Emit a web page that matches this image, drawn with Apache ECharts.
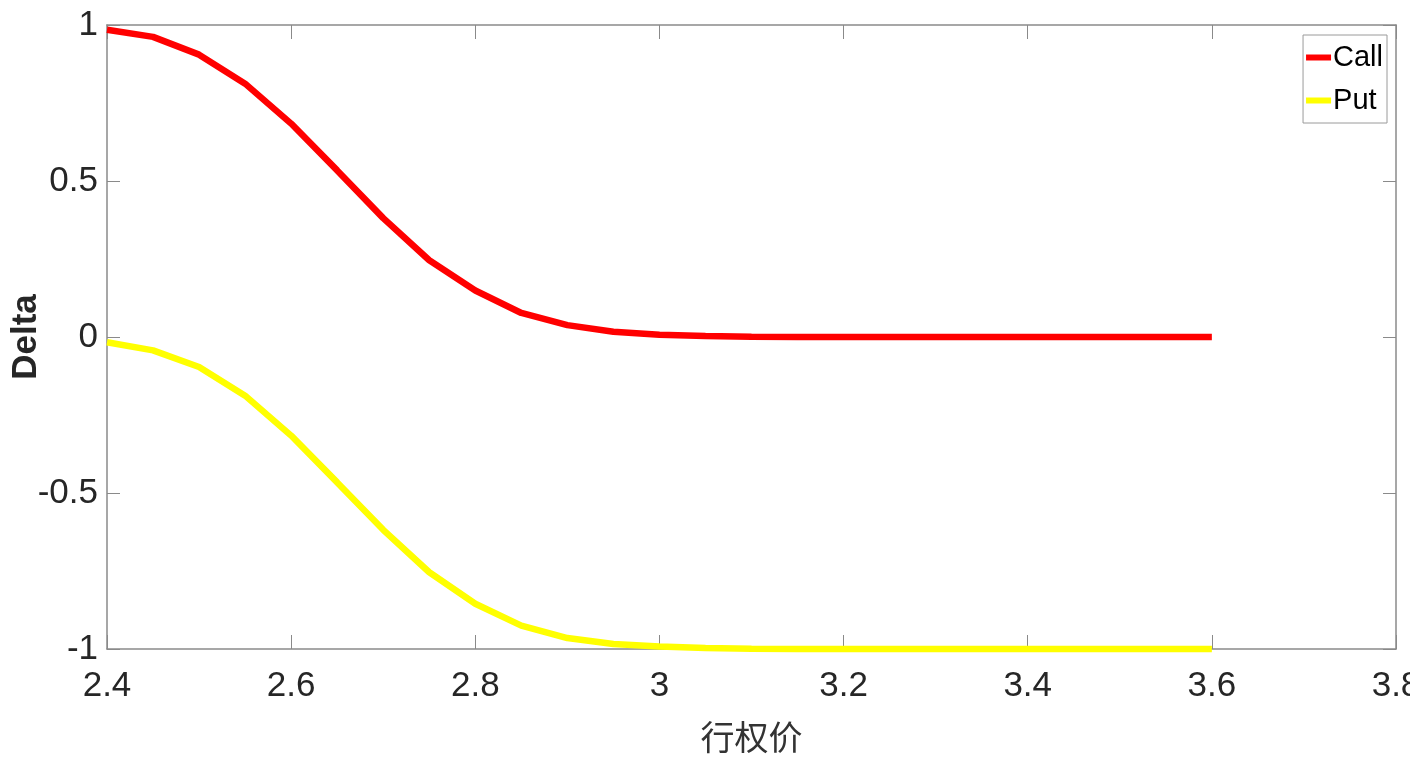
<!DOCTYPE html>
<html>
<head>
<meta charset="utf-8">
<script src="https://cdn.jsdelivr.net/npm/echarts@6/dist/echarts.min.js"></script>
<style>
html,body{margin:0;padding:0;background:#fff;}
#main{width:1410px;height:765px;}
</style>
</head>
<body>
<div id="main"></div>
<script>
// Strike prices (x)
var strikes = [2.40, 2.45, 2.50, 2.55, 2.60, 2.65, 2.70, 2.75, 2.80, 2.85, 2.90, 2.95, 3.00,
               3.05, 3.10, 3.15, 3.20, 3.25, 3.30, 3.35, 3.40, 3.45, 3.50, 3.55, 3.60];
// Call delta
var callDelta = [0.985, 0.962, 0.905, 0.812, 0.684, 0.534, 0.381, 0.246, 0.149, 0.077, 0.038, 0.017, 0.007,
                 0.003, 0.001, 0.0004, 0.0001, 0, 0, 0, 0, 0, 0, 0, 0];
// Put delta
var putDelta = [-0.017, -0.043, -0.096, -0.188, -0.316, -0.466, -0.618, -0.754, -0.855, -0.925, -0.965, -0.984, -0.992,
                -0.997, -0.999, -0.9996, -0.9999, -1, -1, -1, -1, -1, -1, -1, -1];
var seriesNames = ['Call', 'Put'];
var xLabelName = '行权价';
var yLabelName = 'Delta';

function pairs(xs, ys) { return xs.map(function (x, i) { return [x, ys[i]]; }); }

var axisGrey = '#8a8a8a';
var tickFont = '"Liberation Sans Narrow", "Liberation Sans", Arial, sans-serif';

var chart = echarts.init(document.getElementById('main'), null, { renderer: 'canvas' });
chart.setOption({
  backgroundColor: '#ffffff',
  animation: false,
  grid: { left: 107, right: 14, top: 25, bottom: 116, containLabel: false, outerBoundsMode: 'none' },
  legend: {
    orient: 'vertical',
    right: 23,
    top: 35,
    data: seriesNames,
    icon: 'rect',
    itemWidth: 25,
    itemHeight: 6,
    itemGap: 14,
    padding: [8, 4, 8, 3],
    borderColor: '#9a9a9a',
    borderWidth: 1,
    backgroundColor: '#ffffff',
    textStyle: { fontFamily: tickFont, fontSize: 29, color: '#000', padding: [0, 0, 0, -3] }
  },
  xAxis: [{
    type: 'value', position: 'bottom', min: 2.4, max: 3.8, interval: 0.2,
    name: xLabelName, nameLocation: 'middle', nameGap: 71, nameMoveOverlap: false,
    nameTextStyle: { fontFamily: '"Noto Sans CJK SC", sans-serif', fontSize: 34, color: '#333' },
    axisLine: { show: true, onZero: false, lineStyle: { color: axisGrey, width: 1.5 } },
    axisTick: { show: true, inside: true, length: 14, lineStyle: { color: axisGrey } },
    axisLabel: { margin: 20, fontFamily: tickFont, fontSize: 35, color: '#262626' },
    splitLine: { show: false }
  }, {
    type: 'value', position: 'top', min: 2.4, max: 3.8, interval: 0.2,
    axisLine: { show: true, onZero: false, lineStyle: { color: axisGrey, width: 1.5 } },
    axisTick: { show: true, inside: true, length: 14, lineStyle: { color: axisGrey } },
    axisLabel: { show: false },
    splitLine: { show: false }
  }],
  yAxis: [{
    type: 'value', position: 'left', min: -1, max: 1, interval: 0.5,
    name: yLabelName, nameLocation: 'middle', nameGap: 63, nameRotate: 90, nameMoveOverlap: false,
    nameTextStyle: { fontFamily: '"Liberation Sans", Arial, sans-serif', fontSize: 35, fontWeight: 'bold', color: '#262626' },
    axisLine: { show: true, onZero: false, lineStyle: { color: axisGrey, width: 1.5 } },
    axisTick: { show: true, inside: true, length: 13, lineStyle: { color: axisGrey } },
    axisLabel: { margin: 9, fontFamily: tickFont, fontSize: 35, color: '#262626' },
    splitLine: { show: false }
  }, {
    type: 'value', position: 'right', min: -1, max: 1, interval: 0.5,
    axisLine: { show: true, onZero: false, lineStyle: { color: axisGrey, width: 1.5 } },
    axisTick: { show: true, inside: true, length: 13, lineStyle: { color: axisGrey } },
    axisLabel: { show: false },
    splitLine: { show: false }
  }],
  series: [{
    name: seriesNames[0], type: 'line', xAxisIndex: 0, yAxisIndex: 0,
    data: pairs(strikes, callDelta), showSymbol: false, symbol: 'none',
    lineStyle: { color: '#ff0000', width: 6.5 }, itemStyle: { color: '#ff0000' }, clip: false
  }, {
    name: seriesNames[1], type: 'line', xAxisIndex: 0, yAxisIndex: 0,
    data: pairs(strikes, putDelta), showSymbol: false, symbol: 'none',
    lineStyle: { color: '#ffff00', width: 6.5 }, itemStyle: { color: '#ffff00' }, clip: false
  }]
});
</script>
</body>
</html>
